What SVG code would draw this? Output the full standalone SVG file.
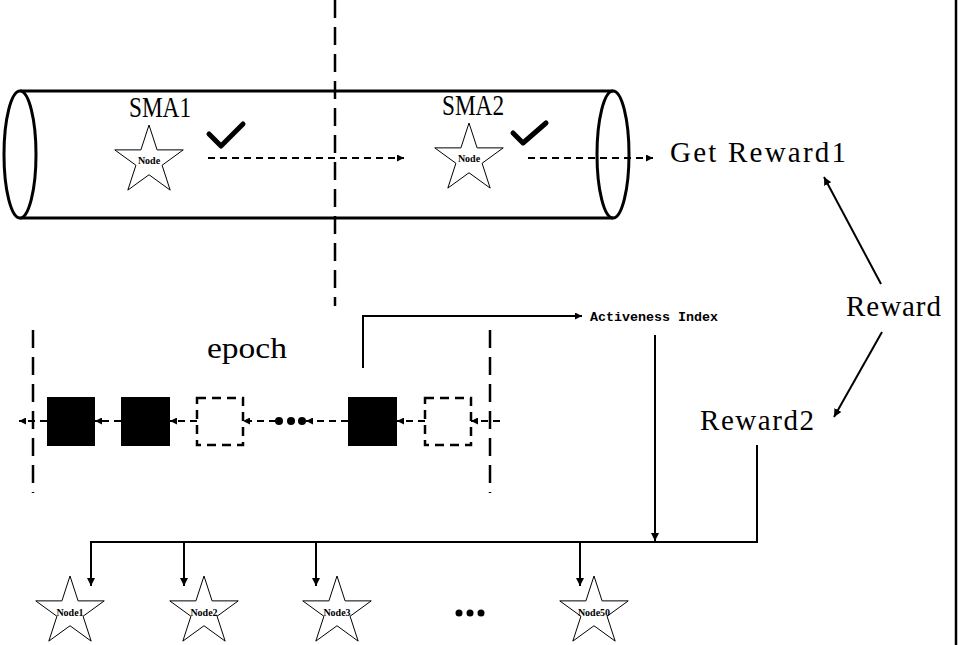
<svg xmlns="http://www.w3.org/2000/svg" width="960" height="645" viewBox="0 0 960 645">
<style>
.ln{stroke:#000;stroke-width:2;fill:none}
.dl{stroke:#000;stroke-width:2;fill:none;stroke-dasharray:7 5}
.bd{stroke:#000;stroke-width:2.5;fill:none;stroke-dasharray:18 9}
.star{fill:#fff;stroke:#000;stroke-width:1}
.mono{font-family:"Liberation Mono","DejaVu Sans Mono",monospace;fill:#000}
.serif{font-family:"Liberation Serif","DejaVu Serif",serif;fill:#000}
.nl{font-family:"Liberation Serif","DejaVu Serif",serif;font-size:10px;font-weight:bold;text-anchor:middle;fill:#000}
.chk{stroke:#000;stroke-width:5;fill:none;stroke-linecap:round;stroke-linejoin:round}
</style>
<defs>
<marker id="ah" viewBox="0 0 10 10" refX="10" refY="5" markerWidth="8" markerHeight="8" markerUnits="userSpaceOnUse" orient="auto">
<path d="M0,0 L10,5 L0,10 Z" fill="#000"/>
</marker>
<marker id="ahs" viewBox="0 0 10 10" refX="10" refY="5" markerWidth="7" markerHeight="7" markerUnits="userSpaceOnUse" orient="auto">
<path d="M0,0 L10,5 L0,10 Z" fill="#000"/>
</marker>
<path id="star" d="M0,-36 L8.08,-11.12 L34.24,-11.12 L13.08,4.25 L21.16,29.12 L0,13.75 L-21.16,29.12 L-13.08,4.25 L-34.24,-11.12 L-8.08,-11.12 Z"/>
</defs>
<rect width="960" height="645" fill="#fff"/>
<line x1="956" y1="0" x2="956" y2="645" stroke="#000" stroke-width="2.5"/>

<g id="cylinder">
<line x1="20" y1="91" x2="613" y2="91" stroke="#000" stroke-width="3"/>
<line x1="20" y1="218" x2="613" y2="218" stroke="#000" stroke-width="3"/>
<ellipse cx="20" cy="154.5" rx="16" ry="63.5" fill="#fff" stroke="#000" stroke-width="3"/>
<ellipse cx="613" cy="154.5" rx="16" ry="63.5" fill="none" stroke="#000" stroke-width="3"/>
</g>

<g id="divider">
<line class="bd" x1="335" y1="0" x2="335" y2="306"/>
</g>

<g id="sma1">
<text class="serif" x="160" y="117" font-size="29" text-anchor="middle" textLength="62" lengthAdjust="spacingAndGlyphs">SMA1</text>
<use href="#star" class="star" x="149" y="161"/>
<text class="nl" x="149" y="164">Node</text>
<path class="chk" d="M209,134 L221,146 L243,124"/>
</g>

<g id="sma2">
<text class="serif" x="473" y="115" font-size="29" text-anchor="middle" textLength="62" lengthAdjust="spacingAndGlyphs">SMA2</text>
<use href="#star" class="star" x="469" y="159"/>
<text class="nl" x="469" y="162">Node</text>
<path class="chk" d="M513,133 L523,143 L546,123"/>
</g>

<g id="getreward1">
<text class="serif" x="670" y="162" font-size="29" textLength="176" lengthAdjust="spacing">Get Reward1</text>
</g>

<g id="reward">
<text class="serif" x="846" y="316" font-size="29" textLength="95" lengthAdjust="spacing">Reward</text>
</g>

<g id="reward2">
<text class="serif" x="700" y="430" font-size="29" textLength="114" lengthAdjust="spacing">Reward2</text>
</g>

<g id="activeness">
<text class="mono" x="590" y="321" font-size="13" font-weight="bold" textLength="128" lengthAdjust="spacingAndGlyphs">Activeness Index</text>
</g>

<g id="epoch">
<line class="bd" x1="33" y1="330" x2="33" y2="493"/>
<line class="bd" x1="490" y1="330" x2="490" y2="493"/>
<text class="serif" x="247" y="358" font-size="30" text-anchor="middle" textLength="80" lengthAdjust="spacingAndGlyphs">epoch</text>
<rect x="47" y="397" width="48" height="49" fill="#000"/>
<rect x="121" y="397" width="49" height="49" fill="#000"/>
<rect x="197" y="398" width="46" height="47" fill="none" stroke="#000" stroke-width="2.5" stroke-dasharray="9 6"/>
<circle cx="279" cy="421" r="4" fill="#000"/>
<circle cx="291" cy="421" r="4" fill="#000"/>
<circle cx="302" cy="421" r="4" fill="#000"/>
<rect x="348" y="397" width="49" height="49" fill="#000"/>
<rect x="425" y="398" width="46" height="47" fill="none" stroke="#000" stroke-width="2.5" stroke-dasharray="9 6"/>
</g>

<g id="nodes">
<use href="#star" class="star" x="70" y="612"/>
<text class="nl" x="70" y="616">Node1</text>
<use href="#star" class="star" x="204" y="612"/>
<text class="nl" x="204" y="616">Node2</text>
<use href="#star" class="star" x="337" y="612"/>
<text class="nl" x="337" y="616">Node3</text>
<use href="#star" class="star" x="594" y="612"/>
<text class="nl" x="594" y="616">Node50</text>
<circle cx="459" cy="613" r="3.5" fill="#000"/>
<circle cx="470" cy="613" r="3.5" fill="#000"/>
<circle cx="481" cy="613" r="3.5" fill="#000"/>
</g>

<g id="connectors">
<line class="dl" x1="208" y1="158" x2="404" y2="158" marker-end="url(#ahs)"/>
<line class="dl" x1="528" y1="158" x2="653" y2="158" marker-end="url(#ahs)"/>
<line class="ln" x1="881" y1="284" x2="824" y2="177" marker-end="url(#ah)"/>
<line class="ln" x1="882" y1="332" x2="834" y2="417" marker-end="url(#ah)"/>
<polyline class="ln" points="363,368 363,316 582,316" marker-end="url(#ahs)"/>
<line class="ln" x1="655" y1="335" x2="655" y2="541" marker-end="url(#ah)"/>
<polyline class="ln" points="757,445 757,542 90,542" stroke-width="2.5"/>
<line class="ln" x1="91" y1="542" x2="91" y2="586" marker-end="url(#ah)"/>
<line class="ln" x1="184" y1="542" x2="184" y2="586" marker-end="url(#ah)"/>
<line class="ln" x1="316" y1="542" x2="316" y2="586" marker-end="url(#ah)"/>
<line class="ln" x1="580" y1="542" x2="580" y2="586" marker-end="url(#ah)"/>
<line class="dl" x1="500" y1="421" x2="471" y2="421" marker-end="url(#ahs)"/>
<line class="dl" x1="425" y1="421" x2="397" y2="421" marker-end="url(#ahs)"/>
<line class="dl" x1="348" y1="421" x2="306" y2="421" marker-end="url(#ahs)"/>
<line class="dl" x1="276" y1="421" x2="243" y2="421" marker-end="url(#ahs)"/>
<line class="dl" x1="197" y1="421" x2="170" y2="421" marker-end="url(#ahs)"/>
<line class="dl" x1="121" y1="421" x2="95" y2="421" marker-end="url(#ahs)"/>
<line class="dl" x1="47" y1="421" x2="19" y2="421" marker-end="url(#ahs)"/>
</g>
</svg>
